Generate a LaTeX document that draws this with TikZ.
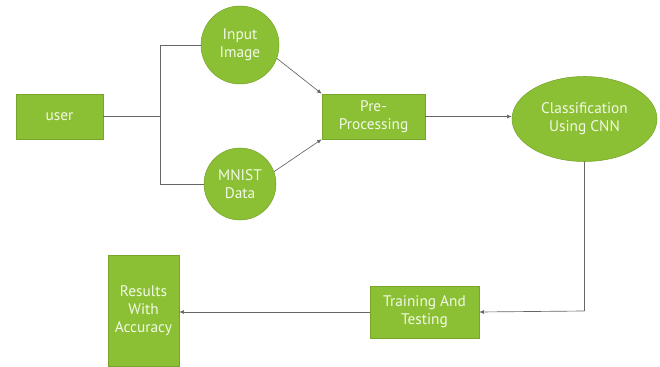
\documentclass[tikz,border=0pt]{standalone}
\usepackage{fontspec}
\setsansfont{PT Sans}
\usetikzlibrary{arrows.meta, positioning, shapes.geometric}
\definecolor{leaf}{HTML}{8BC034}
\definecolor{leafline}{HTML}{76A52A}
\definecolor{leaftext}{HTML}{F2F9E6}
\tikzset{
    blockbox/.style={draw=leafline, fill=leaf, text=leaftext, rectangle, align=center,
        font=\sffamily\fontsize{11.5}{13.5}\selectfont, inner sep=0pt},
    roundbox/.style={blockbox, circle},
    ovalbox/.style={blockbox, ellipse},
    link/.style={draw=black!60, line width=0.5pt},
    linkarrow/.style={link, -{Latex[length=3.5pt, width=3pt]}}
}
\begin{document}
\begin{tikzpicture}[x=0.75pt, y=-0.75pt]
    \useasboundingbox (0,0) rectangle (660,367);
    % nodes
    \node[blockbox, minimum width=65.25pt, minimum height=33.75pt] (user) at (59.5,116.5) {user};
    \node[roundbox, minimum size=58.5pt] (input) at (240,45) {Input\\Image};
    \node[roundbox, minimum size=54pt] (mnist) at (240,184) {MNIST\\Data};
    \node[blockbox, minimum width=77.25pt, minimum height=33.75pt] (prep) at (373.5,116.5) {Pre-\\Processing};
    \node[ovalbox, minimum width=108.75pt, minimum height=63.75pt] (cnn) at (584.5,119) {Classification\\Using CNN};
    \node[blockbox, minimum width=81.75pt, minimum height=39pt] (train) at (424.5,312) {Training And\\Testing};
    \node[blockbox, minimum width=53.25pt, minimum height=83.25pt] (result) at (143.5,310.5) {Results\\With\\Accuracy};
    \coordinate (fork) at (160,116.5);
    \coordinate (corner) at (584.5,311);
    % connectors
    \draw[link] (user.east) -- (fork);
    \draw[link] (input.west) -| (fork);
    \draw[link] (mnist.west) -| (fork);
    \draw[linkarrow] (input.-20) -- (prep.north west);
    \draw[linkarrow] (mnist.20) -- (prep.south west);
    \draw[linkarrow] (prep.east) -- (prep.east -| cnn.west);
    \draw[link] (cnn.south) -- (corner);
    \draw[linkarrow] (corner) -- (train.east);
    \draw[linkarrow] (train.west) -- (train.west -| result.east);
\end{tikzpicture}
\end{document}
